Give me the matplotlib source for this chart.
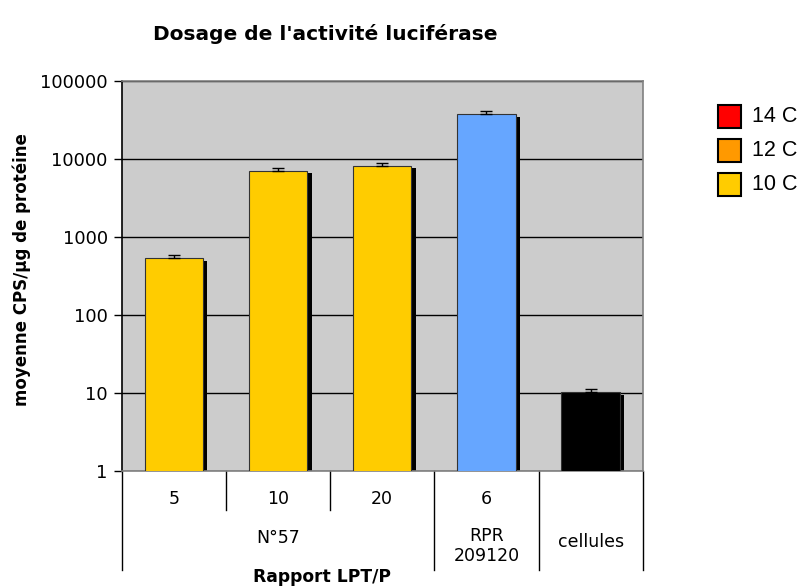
import matplotlib
matplotlib.use("Agg")
import matplotlib.pyplot as plt
from matplotlib.patches import Rectangle
from matplotlib.transforms import ScaledTranslation, blended_transform_factory
import numpy as np

# Data
tick_labels = ["5", "10", "20", "6", ""]
group_labels = ["N°57", "RPR\n209120", "cellules"]
group_spans = [(0, 2), (3, 3), (4, 4)]
values = [533, 6960, 8130, 37100, 10.1]
errors = [55, 570, 760, 4100, 1.1]
bar_colors = ["#FFCC00", "#FFCC00", "#FFCC00", "#66A6FF", "#000000"]
legend_labels = ["14 C", "12 C", "10 C"]
legend_colors = ["#FF0000", "#FF9900", "#FFCC00"]

W, H = 807, 586
fig = plt.figure(figsize=(W / 100, H / 100), dpi=100)
fig.patch.set_facecolor("white")

def fy(py):
    return 1 - py / H

ax_left, ax_right, ax_top, ax_bottom = 121.7, 642.7, 80.7, 470.7
ax = fig.add_axes([ax_left / W, fy(ax_bottom), (ax_right - ax_left) / W,
                   (ax_bottom - ax_top) / H])
ax.set_facecolor("#CCCCCC")
ax.set_yscale("log")
ax.set_ylim(1, 1e5)
ax.set_xlim(-0.5, 4.5)
ax.set_axisbelow(True)

ax.yaxis.grid(True, which="major", color="black", lw=1.0)
ax.yaxis.set_minor_locator(matplotlib.ticker.NullLocator())
ax.set_yticks([1, 10, 100, 1000, 10000, 100000])
ax.set_yticklabels(["1", "10", "100", "1000", "10000", "100000"], fontsize=13)
ax.tick_params(axis="y", direction="out", length=6, width=1, pad=4)
ax.set_xticks([])

ax.spines["left"].set_color("black")
ax.spines["left"].set_linewidth(1.2)
for s in ("top", "right", "bottom"):
    ax.spines[s].set_color("#808080")
    ax.spines[s].set_linewidth(1.2)

x = np.arange(len(values))
bw = 0.56

# drop shadows behind bars
shadow_tr = ax.transData + ScaledTranslation(4.5 / 100, -2.5 / 100, fig.dpi_scale_trans)
ax.bar(x, values, width=bw, color="black", edgecolor="none", transform=shadow_tr,
       zorder=2)
ax.bar(x, values, width=bw, color=bar_colors, edgecolor="#333333", linewidth=0.8,
       zorder=3)
ax.errorbar(x, values, yerr=[np.zeros(len(values)), errors], fmt="none",
            ecolor="black", elinewidth=1, capsize=4, capthick=1, zorder=4)

# category table under the axis
btr = blended_transform_factory(ax.transData, fig.transFigure)
for xb in [0.5, 1.5]:
    ax.plot([xb, xb], [fy(ax_bottom), fy(510)], color="black", lw=1,
            transform=btr, clip_on=False)
for xb in [-0.5, 2.5, 3.5, 4.5]:
    ax.plot([xb, xb], [fy(ax_bottom), fy(570)], color="black", lw=1,
            transform=btr, clip_on=False)

for xi, lab in zip(x, tick_labels):
    if lab:
        fig.text(xi, fy(499.5), lab, transform=btr, ha="center", va="center",
                 fontsize=12.5, family="DejaVu Sans")

group_y = [538, 546, 542]
for (a, b), lab, gy in zip(group_spans, group_labels, group_y):
    fig.text((a + b) / 2, fy(gy), lab, transform=btr, ha="center", va="center",
             fontsize=12.5, family="DejaVu Sans", linespacing=1.15)

fig.text(322 / W, fy(577), "Rapport LPT/P", ha="center", va="center",
         fontsize=12.3, fontweight="bold", family="DejaVu Sans")
fig.text(22 / W, fy(270), "moyenne CPS/µg de protéine", ha="center", va="center",
         rotation=90, fontsize=12, fontweight="bold", family="DejaVu Sans")
fig.text(325 / W, fy(34), "Dosage de l'activité luciférase", ha="center",
         va="center", fontsize=14.5, fontweight="bold", family="DejaVu Sans")

# legend
leg_tops = [105, 139, 173]
for top, col, lab in zip(leg_tops, legend_colors, legend_labels):
    fig.patches.append(Rectangle((718 / W, fy(top + 23)), 23 / W, 23 / H,
                                 transform=fig.transFigure, facecolor=col,
                                 edgecolor="black", linewidth=1.5))
    fig.text(752 / W, fy(top + 11.5), lab, ha="left", va="center", fontsize=15.5,
             family="Liberation Sans")

fig.savefig("out.png", dpi=100)
